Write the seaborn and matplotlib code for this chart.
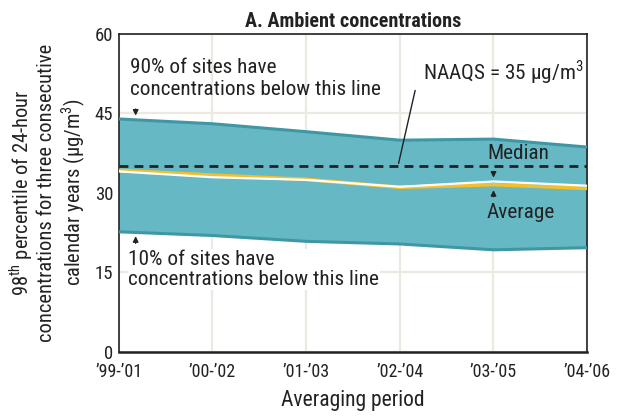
import numpy as np
import pandas as pd
import matplotlib
matplotlib.use("Agg")
import matplotlib.pyplot as plt
from matplotlib import font_manager as fm
import seaborn as sns

# averaging periods and values (ug/m3)
periods = ["\u201999-\u201901", "\u201900-\u201902", "\u201901-\u201903",
           "\u201902-\u201904", "\u201903-\u201905", "\u201904-\u201906"]
pct90 = [43.9, 43.0, 41.5, 39.9, 40.1, 38.6]
pct10 = [22.6, 21.9, 20.8, 20.3, 19.2, 19.6]
median = [34.0, 32.9, 32.4, 31.1, 32.1, 31.3]
average = [34.2, 33.3, 32.5, 31.0, 31.5, 30.8]
naaqs = 35
yticks = [0, 15, 30, 45, 60]

sns.set_theme(style="white")

# look for a narrow/condensed face, the original uses a condensed grotesque
cands = [f for f in fm.fontManager.ttflist
         if f.style == "normal" and f.weight in (400, "normal", "regular")
         and ("Narrow" in f.name or "Condensed" in f.name
              or f.stretch in ("condensed", "semi-condensed", 75, 87))]
names = sorted({f.name for f in cands})
fam = None
for pref in ["Liberation Sans Narrow", "Roboto Condensed", "Open Sans Condensed",
             "Noto Sans Condensed", "DejaVu Sans Condensed", "DejaVu Sans"]:
    if pref in names:
        fam = pref
        break
if fam is None:
    fam = names[0] if names else "Liberation Sans"
plt.rcParams["font.family"] = [fam, "DejaVu Sans"]
plt.rcParams["font.stretch"] = "condensed"
plt.rcParams["mathtext.fontset"] = "custom"
plt.rcParams["mathtext.rm"] = fam

df = pd.DataFrame({"pos": np.arange(len(periods)), "period": periods,
                   "p90": pct90, "p10": pct10, "median": median, "average": average})

fig = plt.figure(figsize=(6.22, 4.16), dpi=100)
ax = fig.add_axes([0.191, 0.155, 0.753, 0.764])

band = "#66b8c4"
edge = "#3f97a5"
ax.fill_between(df["pos"], df["p10"], df["p90"], color=band, lw=0, zorder=2)
sns.lineplot(data=df, x="pos", y="p90", ax=ax, color=edge, lw=2.2, zorder=3)
sns.lineplot(data=df, x="pos", y="p10", ax=ax, color=edge, lw=2.2, zorder=3)
sns.lineplot(data=df, x="pos", y="average", ax=ax, color="#f3bf2a", lw=2.6, zorder=4)
sns.lineplot(data=df, x="pos", y="median", ax=ax, color="white", lw=1.6, zorder=5)
ax.axhline(naaqs, color="#222222", lw=2, ls=(0, (3.2, 2.2)), zorder=6)

ax.set_xlim(0, len(periods) - 1)
ax.set_ylim(0, 60)
ax.set_xticks(df["pos"])
ax.set_xticklabels(periods, fontsize=13, color="#222222")
ax.set_yticks(yticks)
ax.set_yticklabels([str(t) for t in yticks], fontsize=13.5, color="#222222")
ax.tick_params(axis="x", direction="out", length=5, width=1.8, color="#222222", pad=3)
ax.tick_params(axis="y", direction="out", length=3, width=1.2, color="#222222", pad=1)
ax.grid(True, color="#ece9e3", lw=1.6, zorder=0)
ax.set_axisbelow(True)
for s in ax.spines.values():
    s.set_color("#222222")
    s.set_linewidth(1.2)
ax.spines["bottom"].set_linewidth(1.8)

ax.set_xlabel("Averaging period", fontsize=15.5, color="#222222", labelpad=7)
ax.set_ylabel("98$^{\\rm th}$ percentile of 24-hour\nconcentrations for three consecutive\n"
              "calendar years (\u00b5g/m$^{\\rm 3}$)", fontsize=14.8, color="#222222",
              labelpad=5, linespacing=1.15)
ax.set_title("A. Ambient concentrations", fontsize=14.5, fontweight="bold",
             color="#222222", pad=5)

txt = dict(fontsize=15.3, color="#222222", zorder=8)
ax.text(0.12, 51.6, "90% of sites have\nconcentrations below this line",
        ha="left", va="center", linespacing=1.2, **txt)
ax.text(0.10, 15.5, "10% of sites have\nconcentrations below this line",
        ha="left", va="center", linespacing=1.1,
        bbox=dict(facecolor="white", edgecolor="none", pad=0.5), **txt)
ax.text(3.25, 52.8, "NAAQS = 35 \u00b5g/m$^{\\rm 3}$", ha="left", va="center", **txt)
ax.text(3.93, 37.3, "Median", ha="left", va="center", **txt)
ax.text(3.93, 26.2, "Average", ha="left", va="center", **txt)

head = dict(arrowstyle="-|>", color="#222222", lw=1, mutation_scale=8)
ax.annotate("", xy=(0.18, 44.0), xytext=(0.18, 46.3), arrowprops=head, zorder=8)
ax.annotate("", xy=(0.18, 22.3), xytext=(0.18, 19.9), arrowprops=head, zorder=8)
ax.annotate("", xy=(4.0, 32.3), xytext=(4.0, 34.4), arrowprops=head, zorder=8)
ax.annotate("", xy=(4.0, 31.0), xytext=(4.0, 28.7), arrowprops=head, zorder=8)
ax.annotate("", xy=(2.98, 35.0), xytext=(3.17, 49.8),
            arrowprops=dict(arrowstyle="-", color="#222222", lw=1), zorder=8)

fig.savefig("out.png", dpi=100)
